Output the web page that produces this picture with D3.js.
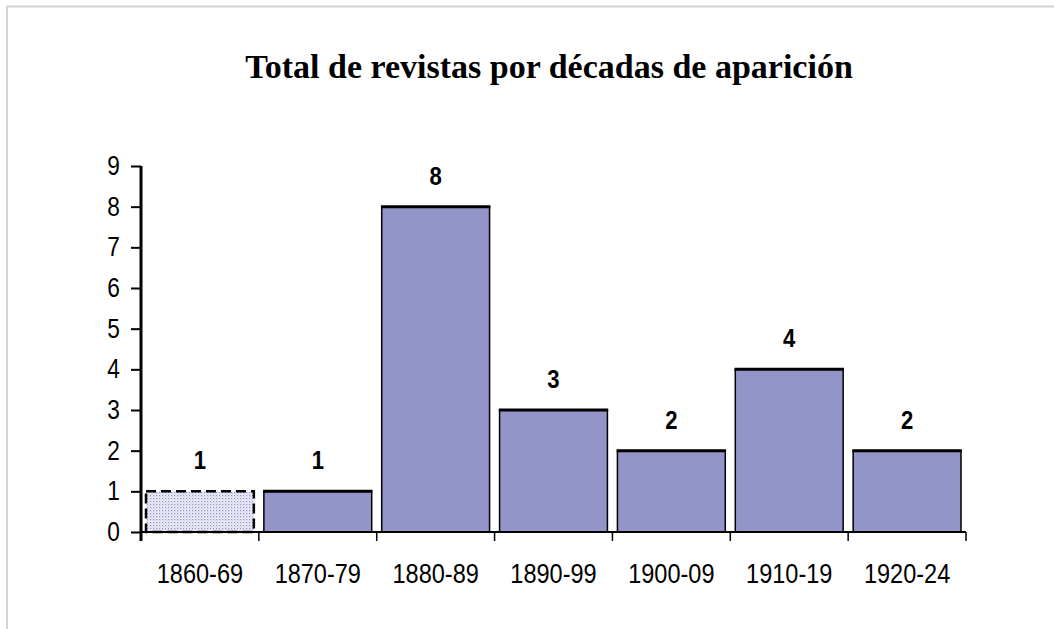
<!DOCTYPE html>
<html lang="es">
<head>
    <meta charset="UTF-8">
    <title>Total de revistas por décadas de aparición</title>
    <script src="https://d3js.org/d3.v7.min.js"></script>
    <style>
        body {
            margin: 0;
            background-color: #fff;
        }
        svg {
            display: block;
        }
        .axis text {
            font-family: "Liberation Sans", Arial, sans-serif;
            fill: #000;
        }
        .value-label {
            font-family: "Liberation Sans", Arial, sans-serif;
            font-weight: bold;
            font-size: 26px;
            fill: #000;
        }
        .title {
            font-family: "Liberation Serif", "Times New Roman", serif;
            font-weight: bold;
            font-size: 34px;
        }
    </style>
</head>
<body>
    <svg width="1054" height="629"></svg>

    <script>
        // Chart data
        const decades = ["1860-69", "1870-79", "1880-89", "1890-99", "1900-09", "1910-19", "1920-24"];
        const counts = [1, 1, 8, 3, 2, 4, 2];
        const yTicks = [0, 1, 2, 3, 4, 5, 6, 7, 8, 9];
        const chartTitle = "Total de revistas por décadas de aparición";

        const svg = d3.select("svg");
        const data = decades.map((d, i) => ({ decade: d, count: counts[i] }));

        // squeeze Arial-like text to look like the narrow face in the original
        function narrow(sel, k) {
            sel.each(function() {
                const w = this.getComputedTextLength();
                d3.select(this).attr("textLength", w * k).attr("lengthAdjust", "spacingAndGlyphs");
            });
        }

        // Frame (light grey top and left border)
        svg.append("path")
            .attr("d", "M7,629 V6.5 H1054")
            .attr("fill", "none")
            .attr("stroke", "#d4d4d4")
            .attr("stroke-width", 2);

        // Dotted fill for the first (incomplete) decade
        const defs = svg.append("defs");
        const pat = defs.append("pattern")
            .attr("id", "dots")
            .attr("width", 3)
            .attr("height", 3)
            .attr("patternUnits", "userSpaceOnUse");
        pat.append("rect").attr("width", 3).attr("height", 3).attr("fill", "#eeeef8");
        pat.append("rect").attr("width", 1.2).attr("height", 1.2).attr("fill", "#8e90c8");
        pat.append("rect").attr("x", 1.5).attr("y", 1.5).attr("width", 1).attr("height", 1).attr("fill", "#b4b6dc");

        const x = d3.scaleBand().domain(decades).range([141, 966]).padding(0);
        const y = d3.scaleLinear().domain([0, 9]).range([532, 166]);
        const inset = 5;

        // Title
        svg.append("text")
            .attr("class", "title")
            .attr("x", 549)
            .attr("y", 78)
            .attr("text-anchor", "middle")
            .text(chartTitle);

        // Bars
        const bars = svg.append("g");
        bars.selectAll("rect")
            .data(data)
            .enter()
            .append("rect")
            .attr("x", d => x(d.decade) + inset)
            .attr("y", d => y(d.count))
            .attr("width", x.bandwidth() - 2 * inset)
            .attr("height", d => y(0) - y(d.count))
            .attr("fill", (d, i) => i === 0 ? "url(#dots)" : "#9394c7")
            .attr("stroke", "#000")
            .attr("stroke-width", (d, i) => i === 0 ? 2.5 : 1.5)
            .attr("stroke-dasharray", (d, i) => i === 0 ? "10,5" : null);

        // Thicker top edges
        bars.selectAll("line.top")
            .data(data.slice(1))
            .enter()
            .append("line")
            .attr("class", "top")
            .attr("x1", d => x(d.decade) + inset - 0.75)
            .attr("x2", d => x(d.decade) + x.bandwidth() - inset + 0.75)
            .attr("y1", d => y(d.count))
            .attr("y2", d => y(d.count))
            .attr("stroke", "#000")
            .attr("stroke-width", 3);

        // Value labels
        svg.append("g").selectAll("text")
            .data(data)
            .enter()
            .append("text")
            .attr("class", "value-label")
            .attr("x", d => x(d.decade) + x.bandwidth() / 2)
            .attr("y", d => y(d.count) - 22)
            .attr("text-anchor", "middle")
            .text(d => d.count)
            .call(narrow, 0.85);

        // Y axis
        const yAxis = svg.append("g")
            .attr("class", "axis")
            .attr("transform", "translate(141,0)")
            .call(d3.axisLeft(y).tickValues(yTicks).tickSize(10).tickPadding(11).tickFormat(d3.format("d")));
        yAxis.select(".domain").attr("stroke", "#000").attr("stroke-width", 3).attr("d", `M0,${y(0)}V${y(9)}`);
        yAxis.selectAll(".tick line").attr("stroke", "#000").attr("stroke-width", 2);
        yAxis.selectAll(".tick text").style("font-size", "27px").call(narrow, 0.84);

        // X axis: labels at band centres, ticks at band boundaries
        const xAxis = svg.append("g")
            .attr("class", "axis")
            .attr("transform", `translate(0,${y(0)})`)
            .call(d3.axisBottom(x).tickSize(0).tickPadding(31));
        xAxis.select(".domain").attr("stroke", "#000").attr("stroke-width", 2).attr("d", "M141,0H966");
        xAxis.selectAll(".tick text").style("font-size", "28px").call(narrow, 0.84);

        const bounds = decades.map(d => x(d)).concat([x(decades[decades.length - 1]) + x.bandwidth()]);
        xAxis.selectAll("line.bound")
            .data(bounds)
            .enter()
            .append("line")
            .attr("class", "bound")
            .attr("x1", d => d)
            .attr("x2", d => d)
            .attr("y1", 0)
            .attr("y2", 9)
            .attr("stroke", "#000")
            .attr("stroke-width", (d, i) => i === 0 ? 3 : 1.5);
    </script>
</body>
</html>
